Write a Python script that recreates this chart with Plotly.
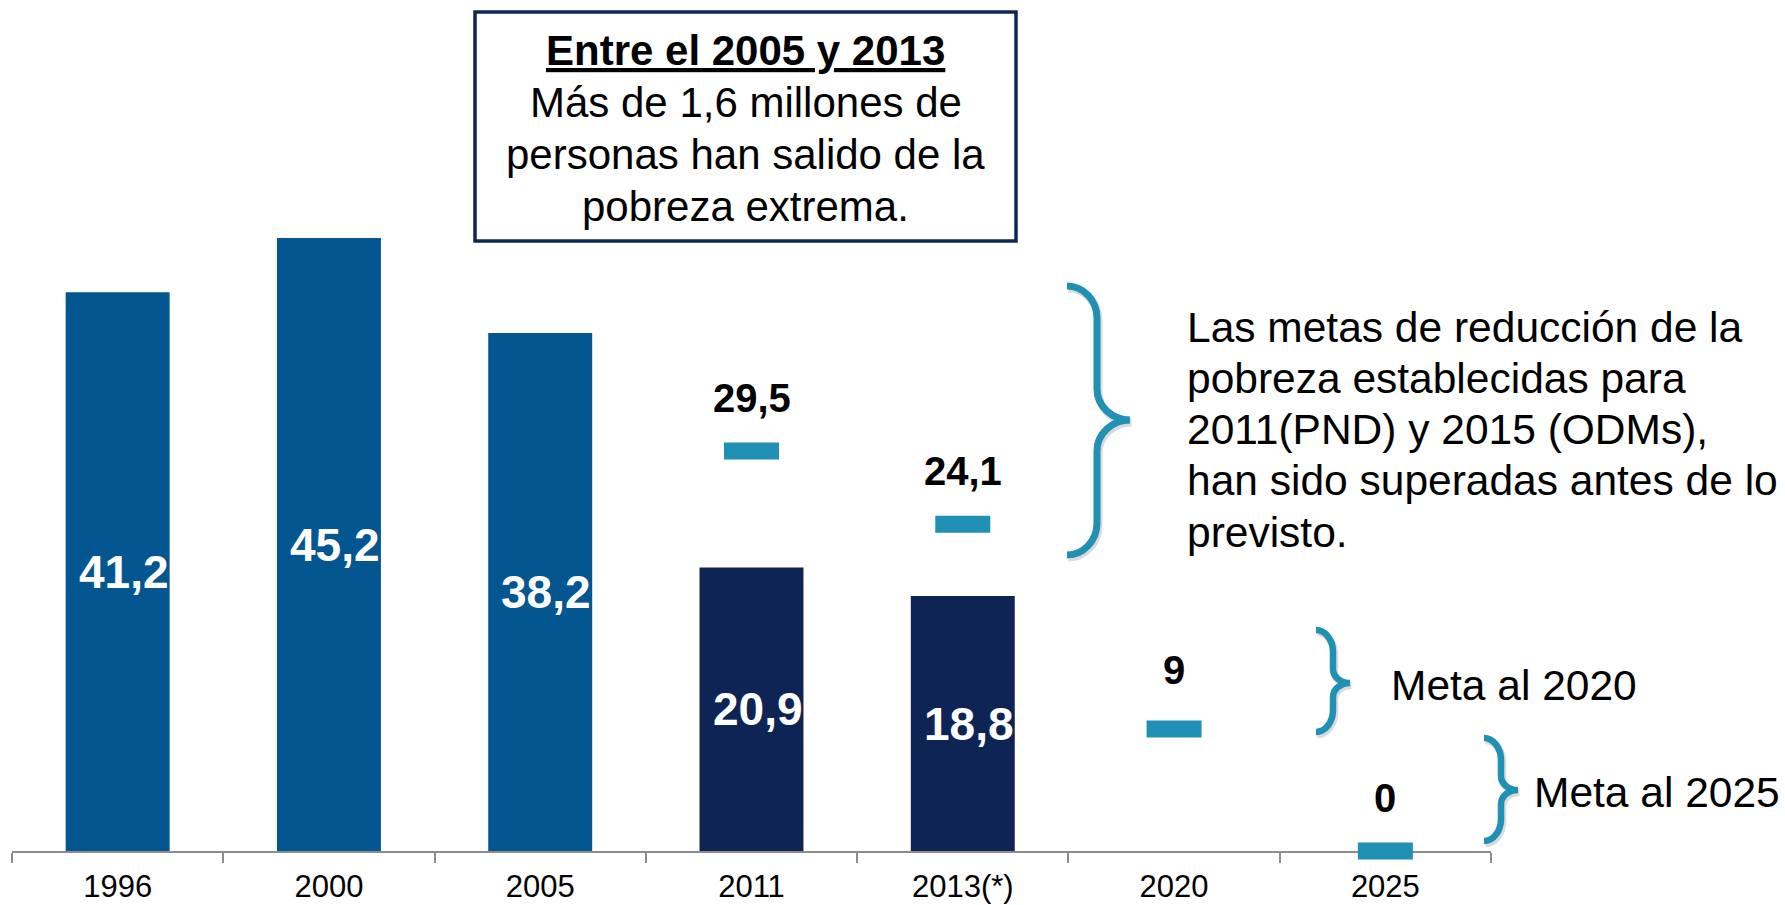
import plotly.graph_objects as go

# --- data -------------------------------------------------------------
years = ["1996", "2000", "2005", "2011", "2013(*)", "2020", "2025"]
pobreza = [41.2, 45.2, 38.2, 20.9, 18.8, None, None]
bar_colors = ["#03568F", "#03568F", "#03568F", "#0E2454", "#0E2454", "#03568F", "#03568F"]

meta_years = ["2011", "2013(*)", "2020", "2025"]
metas = [29.5, 24.1, 9, 0]
meta_label_gap = [53, 53, 59, 53]   # pixel gap between dash and its value label

box_title = "Entre el 2005 y 2013"
box_lines = ["Más de 1,6 millones de", "personas han salido de la", "pobreza extrema."]
note_lines = [
    "Las metas de reducción de la",
    "pobreza establecidas para",
    "2011(PND) y 2015 (ODMs),",
    "han sido superadas antes de lo",
    "previsto.",
]
meta_2020 = "Meta al 2020"
meta_2025 = "Meta al 2025"

# --- layout geometry --------------------------------------------------
W, H = 1785, 905
ML, MR, MT, MB = 12, 294, 30, 54
PW, PH = W - ML - MR, H - MT - MB
Y_MAX = PH / 13.56

FONT = "Liberation Sans, Arial, sans-serif"
TEAL = "#2190B5"
NAVY = "#0E2656"


def px(x):
    return (x - ML) / PW


def py(y):
    return (H - MB - y) / PH


def fmt(v):
    return f"{v:g}".replace(".", ",")


def brace_path(xl, xm, xr, yt, ym, yb, r_end, r_tip, dx=0.0, dy=0.0):
    pts = []

    def p(x, y):
        return f"{px(x + dx):.5f},{py(y + dy):.5f}"

    k = 0.55
    pts.append("M" + p(xl, yt))
    pts.append("C" + p(xl + (xm - xl) * k, yt) + " " + p(xm, yt + r_end * (1 - k)) + " " + p(xm, yt + r_end))
    pts.append("L" + p(xm, ym - r_tip))
    pts.append("C" + p(xm, ym - r_tip * (1 - k)) + " " + p(xr - (xr - xm) * k, ym) + " " + p(xr, ym))
    pts.append("C" + p(xr - (xr - xm) * k, ym) + " " + p(xm, ym + r_tip * (1 - k)) + " " + p(xm, ym + r_tip))
    pts.append("L" + p(xm, yb - r_end))
    pts.append("C" + p(xm, yb - r_end * (1 - k)) + " " + p(xl + (xm - xl) * k, yb) + " " + p(xl, yb))
    return " ".join(pts)


fig = go.Figure()

fig.add_trace(go.Bar(
    x=years, y=pobreza,
    marker=dict(color=bar_colors, line=dict(width=0)),
    width=0.492,
    hoverinfo="skip",
    showlegend=False,
))

fig.add_trace(go.Scatter(
    x=meta_years, y=metas,
    mode="markers",
    marker=dict(symbol="line-ew", size=39.3, line=dict(width=17, color=TEAL)),
    cliponaxis=False,
    hoverinfo="skip",
    showlegend=False,
))

annotations = []

# values written inside the bars (category index keeps numeric-looking years on the category axis)
for yr, v in zip(years, pobreza):
    if v is None:
        continue
    annotations.append(dict(
        x=years.index(yr), y=v / 2, xref="x", yref="y", text=f"<b>{fmt(v)}</b>",
        showarrow=False, xshift=6,
        font=dict(family=FONT, size=46, color="white"),
    ))

# goal values above the dash markers
for yr, v, gap in zip(meta_years, metas, meta_label_gap):
    annotations.append(dict(
        x=years.index(yr), y=v, xref="x", yref="y", text=f"<b>{fmt(v)}</b>",
        showarrow=False, yshift=gap,
        font=dict(family=FONT, size=40, color="black"),
    ))

# framed headline
annotations.append(dict(
    x=px(745.5), y=py(50), xref="paper", yref="paper",
    text=f"<u><b>{box_title}</b></u>", showarrow=False,
    xanchor="center", yanchor="middle",
    font=dict(family=FONT, size=42, color="black"),
))
for i, line in enumerate(box_lines):
    annotations.append(dict(
        x=px(745.5), y=py(102.5 + 51.8 * i), xref="paper", yref="paper",
        text=line, showarrow=False, xanchor="center", yanchor="middle",
        font=dict(family=FONT, size=42, color="black"),
    ))

# explanatory note next to the large brace
for i, line in enumerate(note_lines):
    annotations.append(dict(
        x=px(1185), y=py(327 + 51.3 * i), xref="paper", yref="paper",
        text=line, showarrow=False, xanchor="left", yanchor="middle",
        font=dict(family=FONT, size=42.5, color="black"),
    ))

annotations.append(dict(
    x=px(1389), y=py(685), xref="paper", yref="paper", text=meta_2020,
    showarrow=False, xanchor="left", yanchor="middle",
    font=dict(family=FONT, size=42.5, color="black"),
))
annotations.append(dict(
    x=px(1532), y=py(792), xref="paper", yref="paper", text=meta_2025,
    showarrow=False, xanchor="left", yanchor="middle",
    font=dict(family=FONT, size=42.5, color="black"),
))

shapes = [
    dict(type="rect", xref="paper", yref="paper",
         x0=px(475), x1=px(1016), y0=py(12), y1=py(241),
         line=dict(color=NAVY, width=3.5), fillcolor="white", layer="below"),
]

braces = [
    (1067, 1097, 1130, 286, 420, 555, 32, 31, 7),
    (1316, 1333, 1350, 630, 683, 732, 22, 14, 6.5),
    (1484, 1501, 1518, 738, 790, 841, 22, 14, 6.5),
]
for xl, xm, xr, yt, ym, yb, re_, rt, lw in braces:
    shapes.append(dict(
        type="path", xref="paper", yref="paper",
        path=brace_path(xl, xm, xr, yt, ym, yb, re_, rt, dx=1.5, dy=2.5),
        line=dict(color="rgba(0,0,0,0.14)", width=lw + 1),
    ))
    shapes.append(dict(
        type="path", xref="paper", yref="paper",
        path=brace_path(xl, xm, xr, yt, ym, yb, re_, rt),
        line=dict(color=TEAL, width=lw),
    ))

fig.update_layout(
    width=W, height=H,
    margin=dict(l=ML, r=MR, t=MT, b=MB, pad=0, autoexpand=False),
    paper_bgcolor="white", plot_bgcolor="white",
    bargap=0.508,
    showlegend=False,
    annotations=annotations,
    shapes=shapes,
    xaxis=dict(
        type="category", categoryorder="array", categoryarray=years,
        range=[-0.5, len(years) - 0.5],
        showline=True, linecolor="#8C8C8C", linewidth=2,
        ticks="outside", tickson="boundaries", ticklen=10,
        tickcolor="#8C8C8C", tickwidth=2,
        tickfont=dict(family=FONT, size=31, color="black"),
        ticklabelstandoff=7,
        automargin=False,
        showgrid=False, zeroline=False, layer="below traces",
        fixedrange=True,
    ),
    yaxis=dict(range=[0, Y_MAX], visible=False, showgrid=False,
               zeroline=False, fixedrange=True, automargin=False),
)

fig.write_html("out.html", config={"displayModeBar": False})
